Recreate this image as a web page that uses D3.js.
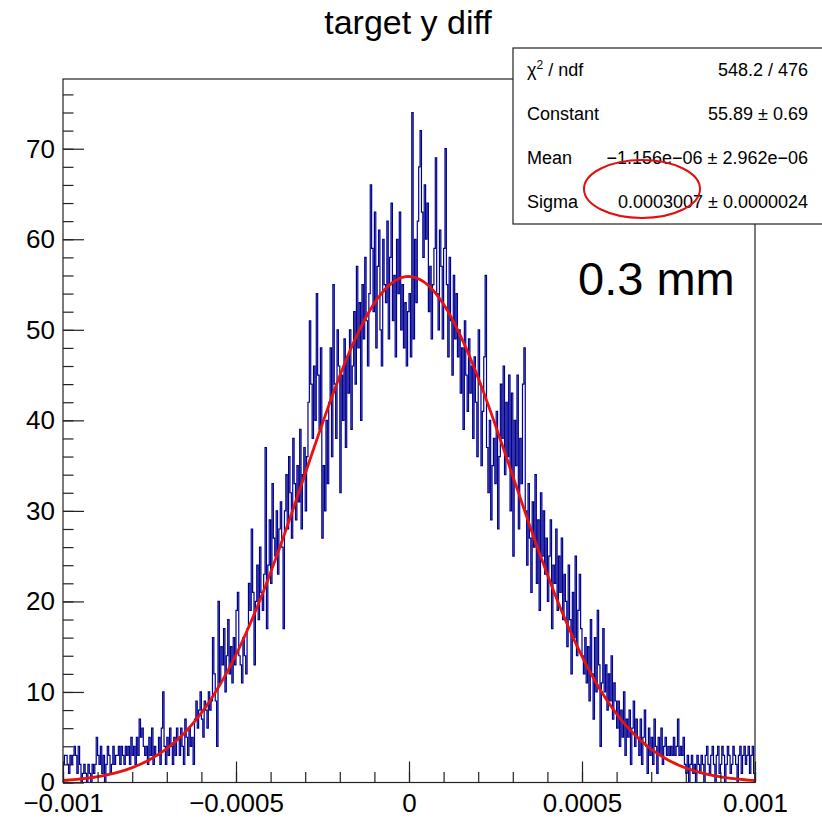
<!DOCTYPE html>
<html>
<head>
<meta charset="utf-8">
<script src="https://cdn.jsdelivr.net/npm/d3@7"></script>
<style>
  body { margin: 0; background: #fff; }
  svg { display: block; font-family: "Liberation Sans", Arial, Helvetica, sans-serif; }
</style>
</head>
<body>
<div id="chart"></div>
<script>
// bin contents, 500 bins from -0.001 to 0.001
const counts = [
  2,3,3,2,1,3,2,3,4,3,   1,4,2,0,1,2,1,0,2,1,
  0,2,1,2,5,3,2,4,1,3,   0,2,4,3,1,2,4,2,3,3,
  4,2,4,3,2,4,3,4,2,5,   3,4,2,5,3,7,5,6,4,3,
  4,2,5,3,6,2,4,3,3,5,   2,6,10,4,2,5,3,6,4,2,
  5,3,6,5,3,6,4,2,7,5,   3,6,4,5,2,7,9,6,8,10,
  7,5,9,8,6,10,8,9,16,12, 9,4,20,11,15,13,17,10,14,18,
  12,15,11,16,13,19,21,14,13,11, 16,14,12,17,22,19,28,21,13,20,
  24,18,26,21,19,23,37,17,24,29, 22,33,27,25,30,23,28,31,26,17,
  30,34,28,36,32,27,38,33,29,35, 31,39,28,34,37,30,36,42,51,44,
  38,46,40,54,45,39,48,27,35,30, 40,33,42,48,36,55,44,38,50,46,
  32,45,40,49,37,47,43,50,39,46, 52,44,57,48,53,40,55,49,58,51,
  46,54,66,59,52,63,48,57,61,50, 46,60,55,53,62,49,58,64,51,56,
  47,60,54,63,50,55,48,53,46,52, 54,47,74,49,60,53,62,68,72,63,
  58,66,60,64,52,57,49,55,59,69, 54,50,61,57,49,59,70,55,47,58,
  51,45,56,49,54,47,50,43,48,39, 51,45,41,49,43,46,38,47,42,36,
  50,44,35,41,47,56,37,32,40,29, 35,38,33,41,28,36,44,38,46,34,
  42,36,45,30,43,25,40,35,45,28, 38,33,44,48,30,24,33,27,21,31,
  26,34,22,29,19,32,25,30,23,27, 20,25,29,17,24,22,28,19,25,21,
  27,18,23,20,15,24,18,12,21,16, 25,14,19,23,17,14,12,16,11,15,
  9,18,12,7,16,10,19,13,4,11,   17,10,13,8,12,9,14,7,11,9,
  6,9,4,8,5,10,3,7,5,8,         2,6,9,4,7,5,3,7,2,5,
  8,4,1,6,3,5,2,7,4,1,          5,3,6,2,4,5,3,4,3,4,
  3,5,3,4,7,3,4,3,5,2,          1,3,0,2,3,1,2,0,3,2,
  1,3,2,0,3,4,2,1,3,4,          2,0,3,4,1,2,4,3,0,2,
  4,3,1,2,4,3,2,0,3,4,          1,3,4,2,3,4,1,3,4,1
];
const xMin = -0.001, xMax = 0.001;
const yMax = 77.7;

const xTickValues = [-0.001, -0.0005, 0, 0.0005, 0.001];
const xTickLabels = ["\u22120.001", "\u22120.0005", "0", "0.0005", "0.001"];
const yTickValues = [0, 10, 20, 30, 40, 50, 60, 70];

// gaus fit result from the stats box
const fitConstant = 55.89;
const fitMean = -1.156e-6;
const fitSigma = 0.0003007;

const titleText = "target y diff";
const statLabels = ["\u03c7", "Constant", "Mean", "Sigma"];
const statValues = ["548.2 / 476", "55.89 \u00b1 0.69", "\u22121.156e\u221206 \u00b1 2.962e\u221206", "0.0003007 \u00b1 0.0000024"];
const noteText = "0.3 mm";

const W = 822, H = 818;
const margin = { top: 79, right: 67, bottom: 35.5, left: 63 };
const width = W - margin.left - margin.right;
const height = H - margin.top - margin.bottom;

const svg = d3.select("#chart").append("svg")
  .attr("width", W).attr("height", H);

svg.append("text")
  .attr("x", 408).attr("y", 34)
  .attr("text-anchor", "middle")
  .attr("font-size", 34)
  .attr("fill", "#000")
  .text(titleText);

const g = svg.append("g")
  .attr("transform", `translate(${margin.left},${margin.top})`);

const x = d3.scaleLinear().domain([xMin, xMax]).range([0, width]);
const y = d3.scaleLinear().domain([0, yMax]).range([height, 0]);

g.append("clipPath").attr("id", "frame-clip")
  .append("rect").attr("width", width).attr("height", height);

// histogram outline
const binW = (xMax - xMin) / counts.length;
const pts = [[xMin, 0]];
counts.forEach((c, i) => {
  pts.push([xMin + i * binW, c]);
  pts.push([xMin + (i + 1) * binW, c]);
});
pts.push([xMax, 0]);

g.append("path")
  .datum(pts)
  .attr("clip-path", "url(#frame-clip)")
  .attr("fill", "none")
  .attr("stroke", "#000090")
  .attr("stroke-width", 1.2)
  .attr("d", d3.line().x((d) => x(d[0])).y((d) => y(d[1])));

// fit curve
const fitXs = d3.range(201).map((i) => xMin + (i * (xMax - xMin)) / 200);
g.append("path")
  .datum(fitXs)
  .attr("fill", "none")
  .attr("stroke", "#e8130f")
  .attr("stroke-width", 2.8)
  .attr("d", d3.line()
    .x((d) => x(d))
    .y((d) => y(fitConstant * Math.exp(-0.5 * ((d - fitMean) / fitSigma) ** 2))));

// frame
g.append("rect")
  .attr("width", width).attr("height", height)
  .attr("fill", "none").attr("stroke", "#222").attr("stroke-width", 1.2);

// x axis
const xMinor = d3.range(-10, 11).map((k) => k * 0.0001);
g.append("g")
  .attr("transform", `translate(0,${height})`)
  .call(d3.axisBottom(x).tickValues(xMinor).tickSize(-10.5).tickFormat(""))
  .call((a) => a.select(".domain").remove());
const xAxis = g.append("g")
  .attr("transform", `translate(0,${height})`)
  .call(d3.axisBottom(x).tickValues(xTickValues).tickSize(-21).tickPadding(11)
    .tickFormat((d, i) => xTickLabels[i]));
xAxis.select(".domain").remove();
xAxis.selectAll("text").attr("font-size", 26).attr("fill", "#000")
  .attr("font-family", "Liberation Sans, Arial, sans-serif");

// y axis
const yMinor = d3.range(0, 78, 2);
g.append("g")
  .call(d3.axisLeft(y).tickValues(yMinor).tickSize(-10.5).tickFormat(""))
  .call((a) => a.select(".domain").remove());
const yAxis = g.append("g")
  .call(d3.axisLeft(y).tickValues(yTickValues).tickSize(-21).tickPadding(8));
yAxis.select(".domain").remove();
yAxis.selectAll("text").attr("font-size", 26).attr("fill", "#000")
  .attr("font-family", "Liberation Sans, Arial, sans-serif");
g.selectAll(".tick line").attr("stroke", "#222").attr("stroke-width", 1.2);

// stats box
const box = { x: 513, y: 48, w: 312, h: 176 };
svg.append("rect")
  .attr("x", box.x).attr("y", box.y).attr("width", box.w).attr("height", box.h)
  .attr("fill", "#fff").attr("stroke", "#222").attr("stroke-width", 1.2);

statLabels.forEach((lab, i) => {
  const by = box.y + 28 + i * 44;
  const t = svg.append("text")
    .attr("x", box.x + 14).attr("y", by)
    .attr("font-size", 18).attr("fill", "#000");
  if (i === 0) {
    t.append("tspan").text(lab);
    t.append("tspan").attr("font-size", 12).attr("dy", -7).text("2");
    t.append("tspan").attr("dy", 7).text(" / ndf");
  } else {
    t.text(lab);
  }
  svg.append("text")
    .attr("x", box.x + 295).attr("y", by)
    .attr("text-anchor", "end")
    .attr("font-size", 18).attr("fill", "#000")
    .text(statValues[i]);
});

// hand-drawn annotation
svg.append("ellipse")
  .attr("cx", 642).attr("cy", 189).attr("rx", 58).attr("ry", 29)
  .attr("fill", "none").attr("stroke", "#e01010").attr("stroke-width", 2);

svg.append("text")
  .attr("x", 578).attr("y", 295)
  .attr("font-size", 47).attr("fill", "#000")
  .text(noteText);
</script>
</body>
</html>
